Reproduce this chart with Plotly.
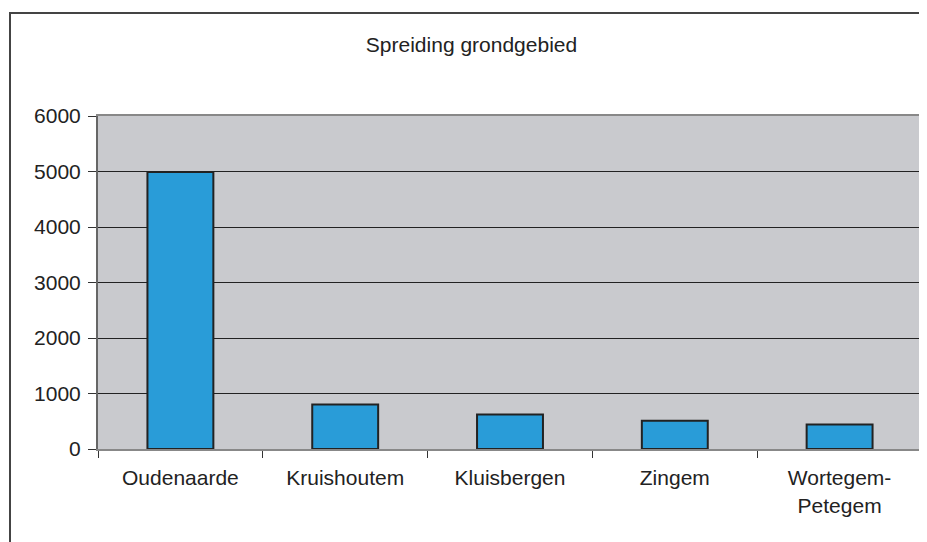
import plotly.graph_objects as go

categories = ["Oudenaarde", "Kruishoutem", "Kluisbergen", "Zingem", "Wortegem-<br>Petegem"]
values = [4990, 800, 620, 510, 440]
y_ticks = [0, 1000, 2000, 3000, 4000, 5000, 6000]

font_family = "Liberation Sans, Arial, sans-serif"

# page body has an 8px default margin; compensate in the figure margins
off = 8
pl, pr, pt, pb = 98 - off, 922 - off, 116 - off, 449 - off
W, H = 927, 542

fig = go.Figure(go.Bar(
    x=categories, y=values,
    marker=dict(color="#299CD8", line=dict(color="#222222", width=2)),
    width=0.4,
))

fig.update_layout(
    width=W, height=H,
    margin=dict(l=pl, r=W - pr, t=pt, b=H - pb),
    paper_bgcolor="white", plot_bgcolor="#C9CACE",
    font=dict(family=font_family, size=21, color="#222222"),
    title=dict(text="Spreiding grondgebied", x=0.5 + 0 / W, xanchor="center",
               y=1 - (45 - off) / H, yanchor="middle", yref="container",
               font=dict(size=21, color="#222222")),
    showlegend=False,
    shapes=[dict(type="rect", xref="paper", yref="paper",
                 x0=(10 - off - pl) / (pr - pl), x1=1.2,
                 y0=-0.6, y1=(pb - (13 - off)) / (pb - pt),
                 line=dict(color="#444444", width=2), layer="below")],
)
fig.update_xaxes(
    showline=True, linecolor="#888888", linewidth=2, mirror=True,
    ticks="outside", tickson="boundaries", ticklen=7, tickcolor="#333333",
    showgrid=False, tickfont=dict(size=21), ticklabelstandoff=9,
)
fig.update_yaxes(
    range=[0, 6000], tickvals=y_ticks, showline=True, linecolor="#666666",
    linewidth=2, mirror=True, ticks="outside", ticklen=8, tickcolor="#333333",
    showgrid=True, gridcolor="#222222", gridwidth=1, zeroline=False,
    tickfont=dict(size=21), ticklabelstandoff=3,
)

fig.write_html("out.html")
